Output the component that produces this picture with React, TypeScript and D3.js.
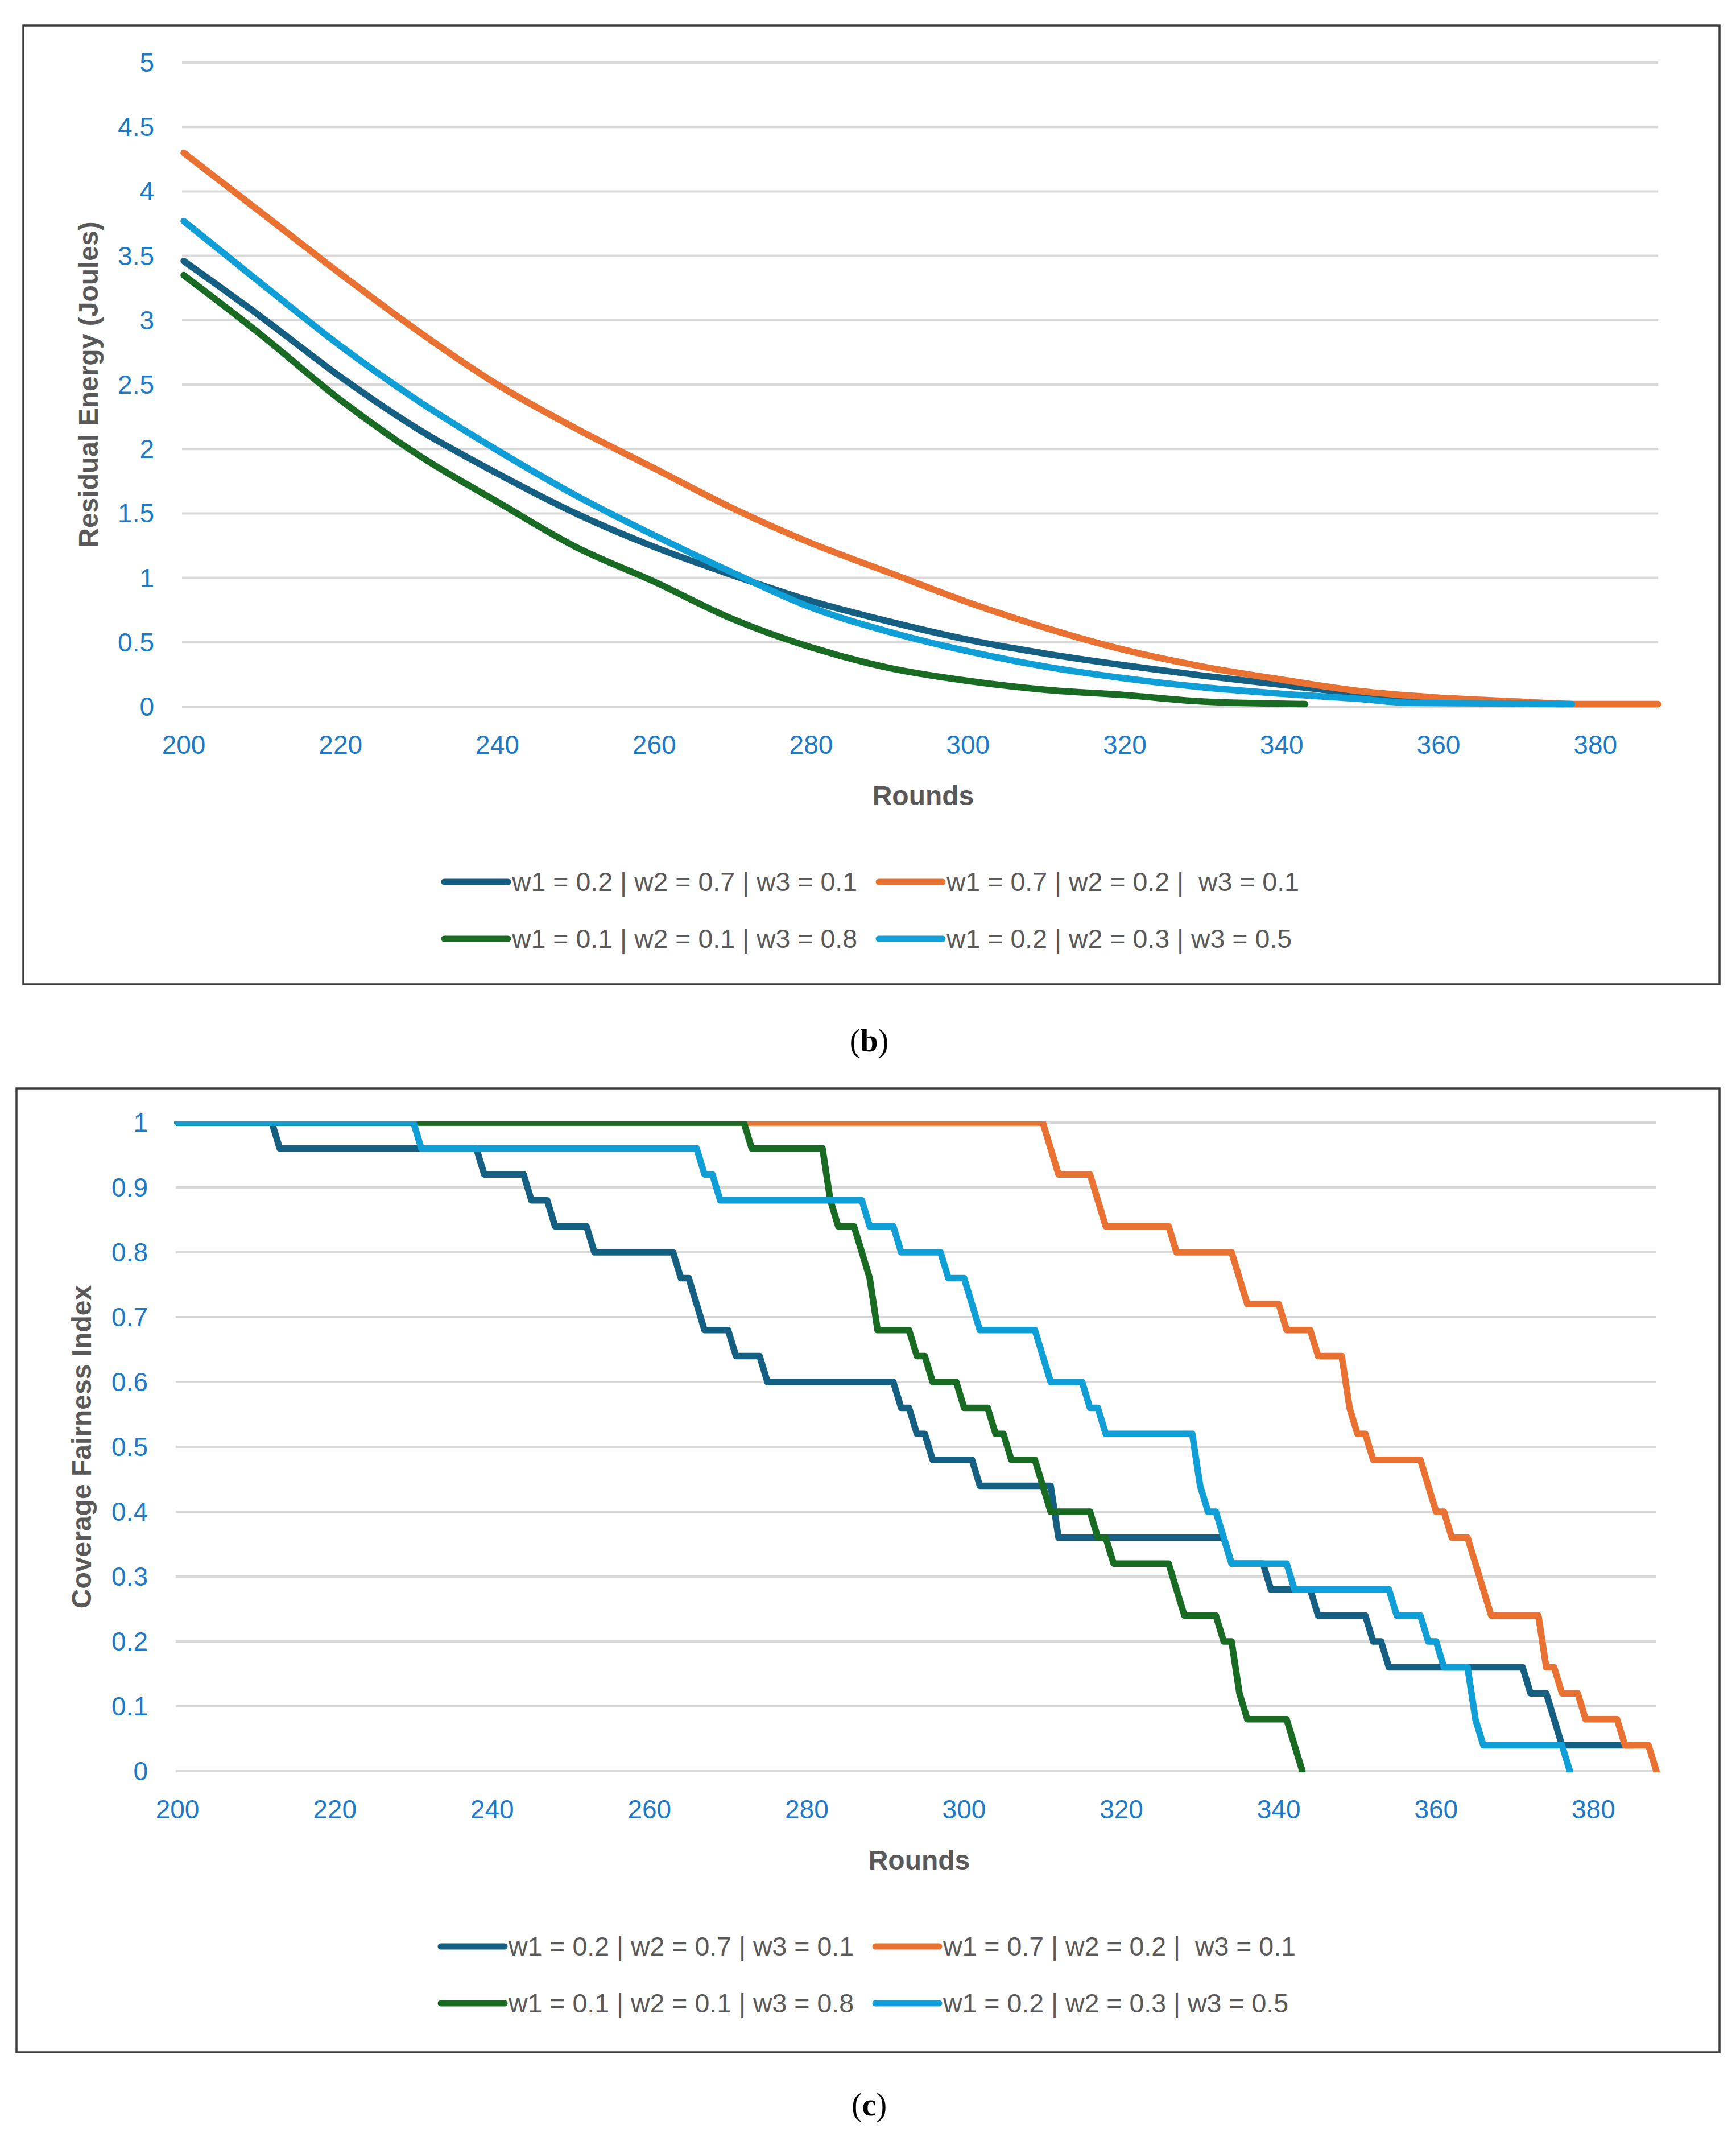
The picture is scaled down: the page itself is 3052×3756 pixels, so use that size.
import React from 'react';
import * as d3 from 'd3';

const W = 3052;
const H = 3756;

// ---------- shared ----------
const seriesLabels = [
  'w1 = 0.2 | w2 = 0.7 | w3 = 0.1',
  'w1 = 0.7 | w2 = 0.2 |  w3 = 0.1',
  'w1 = 0.1 | w2 = 0.1 | w3 = 0.8',
  'w1 = 0.2 | w2 = 0.3 | w3 = 0.5',
];
const seriesColors = ['#156082', '#E97132', '#196B24', '#0F9ED5'];
const roundTicks = [200, 220, 240, 260, 280, 300, 320, 340, 360, 380];
const roundDomain = [200, 388];

// ---------- (b) Residual Energy ----------
const energyTicks = [0, 0.5, 1, 1.5, 2, 2.5, 3, 3.5, 4, 4.5, 5];
const energyA: [number, number][] = [
  [200, 3.46], [210, 3.02], [220, 2.56], [230, 2.15], [240, 1.81], [250, 1.5], [260, 1.24],
  [270, 1.02], [280, 0.82], [290, 0.66], [300, 0.52], [310, 0.41], [320, 0.32], [330, 0.24],
  [340, 0.17], [350, 0.1], [360, 0.05], [370, 0.025], [376, 0.02],
];
const energyB: [number, number][] = [
  [200, 4.3], [210, 3.83], [220, 3.36], [230, 2.91], [240, 2.5], [250, 2.16], [260, 1.85],
  [270, 1.54], [280, 1.27], [290, 1.04], [300, 0.81], [310, 0.61], [320, 0.44], [330, 0.31],
  [340, 0.21], [350, 0.12], [360, 0.07], [370, 0.04], [378, 0.02], [388, 0.02],
];
const energyC: [number, number][] = [
  [200, 3.35], [210, 2.88], [220, 2.38], [230, 1.95], [240, 1.59], [250, 1.24], [260, 0.97],
  [270, 0.68], [280, 0.46], [290, 0.3], [300, 0.2], [310, 0.13], [320, 0.09], [330, 0.04],
  [343, 0.02],
];
const energyD: [number, number][] = [
  [200, 3.77], [210, 3.28], [220, 2.8], [230, 2.37], [240, 1.99], [250, 1.64], [260, 1.33],
  [270, 1.04], [280, 0.77], [290, 0.58], [300, 0.43], [310, 0.31], [320, 0.22], [330, 0.15],
  [340, 0.1], [350, 0.06], [356, 0.03], [377, 0.02],
];

// ---------- (c) Coverage Fairness Index ----------
const fairnessTicks = [0, 0.1, 0.2, 0.3, 0.4, 0.5, 0.6, 0.7, 0.8, 0.9, 1];
const fairA: [number, number][] = [
  [200, 1], [212, 1], [213, 0.96], [238, 0.96], [239, 0.92], [244, 0.92], [245, 0.88],
  [247, 0.88], [248, 0.84], [252, 0.84], [253, 0.8], [263, 0.8], [264, 0.76], [265, 0.76],
  [267, 0.68], [270, 0.68], [271, 0.64], [274, 0.64], [275, 0.6], [291, 0.6], [292, 0.56],
  [293, 0.56], [294, 0.52], [295, 0.52], [296, 0.48], [301, 0.48], [302, 0.44], [311, 0.44],
  [312, 0.36], [333, 0.36], [334, 0.32], [338, 0.32], [339, 0.28], [344, 0.28], [345, 0.24],
  [351, 0.24], [352, 0.2], [353, 0.2], [354, 0.16], [371, 0.16], [372, 0.12], [374, 0.12],
  [376, 0.04], [385, 0.04],
];
const fairB: [number, number][] = [
  [200, 1], [310, 1], [312, 0.92], [316, 0.92], [318, 0.84], [326, 0.84], [327, 0.8],
  [334, 0.8], [336, 0.72], [340, 0.72], [341, 0.68], [344, 0.68], [345, 0.64], [348, 0.64],
  [349, 0.56], [350, 0.52], [351, 0.52], [352, 0.48], [358, 0.48], [360, 0.4], [361, 0.4],
  [362, 0.36], [364, 0.36], [365, 0.32], [367, 0.24], [373, 0.24], [374, 0.16], [375, 0.16],
  [376, 0.12], [378, 0.12], [379, 0.08], [383, 0.08], [384, 0.04], [387, 0.04], [388, 0],
];
const fairC: [number, number][] = [
  [200, 1], [272, 1], [273, 0.96], [282, 0.96], [283, 0.88], [284, 0.84], [286, 0.84],
  [288, 0.76], [289, 0.68], [293, 0.68], [294, 0.64], [295, 0.64], [296, 0.6], [299, 0.6],
  [300, 0.56], [303, 0.56], [304, 0.52], [305, 0.52], [306, 0.48], [309, 0.48], [311, 0.4],
  [316, 0.4], [317, 0.36], [318, 0.36], [319, 0.32], [326, 0.32], [328, 0.24], [332, 0.24],
  [333, 0.2], [334, 0.2], [335, 0.12], [336, 0.08], [341, 0.08], [343, 0],
];
const fairD: [number, number][] = [
  [200, 1], [230, 1], [231, 0.96], [266, 0.96], [267, 0.92], [268, 0.92], [269, 0.88],
  [287, 0.88], [288, 0.84], [291, 0.84], [292, 0.8], [297, 0.8], [298, 0.76], [300, 0.76],
  [302, 0.68], [309, 0.68], [311, 0.6], [315, 0.6], [316, 0.56], [317, 0.56], [318, 0.52],
  [329, 0.52], [330, 0.44], [331, 0.4], [332, 0.4], [334, 0.32], [341, 0.32], [342, 0.28],
  [354, 0.28], [355, 0.24], [358, 0.24], [359, 0.2], [360, 0.2], [361, 0.16], [364, 0.16],
  [365, 0.08], [366, 0.04], [376, 0.04], [377, 0],
];

const SANS = '"Liberation Sans", Arial, Helvetica, sans-serif';
const SERIF = '"Liberation Serif", "Times New Roman", Times, serif';
const TICK_BLUE = '#1c7ac8';
const TITLE_GRAY = '#595959';

type Box = { left: number; right: number; top: number; bottom: number };

function Panel(props: {
  id: string;
  frame: Box;
  plot: Box;
  yMax: number;
  yTicks: number[];
  yTitle: string;
  series: [number, number][][];
  curve: d3.CurveFactory;
  caption: string;
  captionY: number;
}) {
  const { id, frame, plot, yMax, yTicks, yTitle, series, curve, caption, captionY } = props;
  const x = d3.scaleLinear().domain(roundDomain).range([plot.left, plot.right]);
  const y = d3.scaleLinear().domain([0, yMax]).range([plot.bottom, plot.top]);
  const line = d3
    .line<[number, number]>()
    .x((d) => x(d[0]))
    .y((d) => y(d[1]))
    .curve(curve);
  const fmt = (v: number) => String(+v.toFixed(2));
  const frameCx = (frame.left + frame.right) / 2;
  const plotCx = (plot.left + plot.right) / 2;
  const legendRows = [
    [0, 1],
    [2, 3],
  ];
  const clipId = 'clip-' + id;
  return (
    <g>
      <defs>
        <clipPath id={clipId}>
          <rect
            x={plot.left - 8}
            y={plot.top - 2}
            width={plot.right - plot.left + 16}
            height={plot.bottom - plot.top + 4}
          />
        </clipPath>
      </defs>
      <rect
        x={frame.left}
        y={frame.top}
        width={frame.right - frame.left}
        height={frame.bottom - frame.top}
        fill="#ffffff"
        stroke="#3d3d3d"
        strokeWidth={3.5}
      />
      {yTicks.map((t) => (
        <line
          key={'g' + t}
          x1={plot.left - 3}
          x2={plot.right}
          y1={y(t)}
          y2={y(t)}
          stroke="#d9d9d9"
          strokeWidth={4}
        />
      ))}
      {yTicks.map((t) => (
        <text
          key={'yl' + t}
          x={plot.left - 52}
          y={y(t)}
          textAnchor="end"
          dominantBaseline="central"
          fontFamily={SANS}
          fontSize={46}
          fill={TICK_BLUE}
        >
          {fmt(t)}
        </text>
      ))}
      {roundTicks.map((t) => (
        <text
          key={'xl' + t}
          x={x(t)}
          y={plot.bottom + 83}
          textAnchor="middle"
          fontFamily={SANS}
          fontSize={46}
          fill={TICK_BLUE}
        >
          {t}
        </text>
      ))}
      <text
        x={plotCx + 4}
        y={plot.bottom + 156}
        textAnchor="middle"
        dominantBaseline="central"
        fontFamily={SANS}
        fontSize={48}
        fontWeight="bold"
        fill={TITLE_GRAY}
      >
        Rounds
      </text>
      <text
        transform={`translate(${frame.left + 114},${(plot.top + plot.bottom) / 2}) rotate(-90)`}
        textAnchor="middle"
        dominantBaseline="central"
        fontFamily={SANS}
        fontSize={48}
        fontWeight="bold"
        fill={TITLE_GRAY}
      >
        {yTitle}
      </text>
      <g clipPath={`url(#${clipId})`}>
        {series.map((s, i) => (
          <path
            key={'s' + i}
            d={line(s) || ''}
            fill="none"
            stroke={seriesColors[i]}
            strokeWidth={11.5}
            strokeLinejoin="round"
            strokeLinecap="round"
          />
        ))}
      </g>
      {legendRows.map((row, r) =>
        row.map((si, c) => {
          const sx = frameCx + (c === 0 ? -756 : 8);
          const ly = plot.bottom + 308 + r * 100;
          return (
            <g key={'lg' + si}>
              <line
                x1={sx + 5}
                x2={sx + 117}
                y1={ly}
                y2={ly}
                stroke={seriesColors[si]}
                strokeWidth={11}
                strokeLinecap="round"
              />
              <text
                x={sx + 124}
                y={ly}
                dominantBaseline="central"
                fontFamily={SANS}
                fontSize={46.5}
                fill={TITLE_GRAY}
                style={{ whiteSpace: 'pre' }}
              >
                {seriesLabels[si]}
              </text>
            </g>
          );
        })
      )}
      <text
        x={1528}
        y={captionY}
        textAnchor="middle"
        dominantBaseline="central"
        fontFamily={SERIF}
        fontSize={56}
        fill="#000000"
      >
        (<tspan fontWeight="bold">{caption}</tspan>)
      </text>
    </g>
  );
}

export default function App() {
  return (
    <svg
      width={W}
      height={H}
      viewBox={`0 0 ${W} ${H}`}
      style={{ position: 'absolute', left: 0, top: 0, display: 'block', background: '#ffffff' }}
    >
      <rect x={0} y={0} width={W} height={H} fill="#ffffff" />
      <Panel
        id="energy"
        frame={{ left: 41, right: 3023, top: 45, bottom: 1730 }}
        plot={{ left: 323, right: 2915, top: 110, bottom: 1242 }}
        yMax={5}
        yTicks={energyTicks}
        yTitle="Residual Energy (Joules)"
        series={[energyA, energyB, energyC, energyD]}
        curve={d3.curveMonotoneX}
        caption="b"
        captionY={1829}
      />
      <Panel
        id="fairness"
        frame={{ left: 29, right: 3023, top: 1913, bottom: 3607 }}
        plot={{ left: 312, right: 2912, top: 1973, bottom: 3113 }}
        yMax={1}
        yTicks={fairnessTicks}
        yTitle="Coverage Fairness Index"
        series={[fairA, fairB, fairC, fairD]}
        curve={d3.curveLinear}
        caption="c"
        captionY={3699}
      />
    </svg>
  );
}
